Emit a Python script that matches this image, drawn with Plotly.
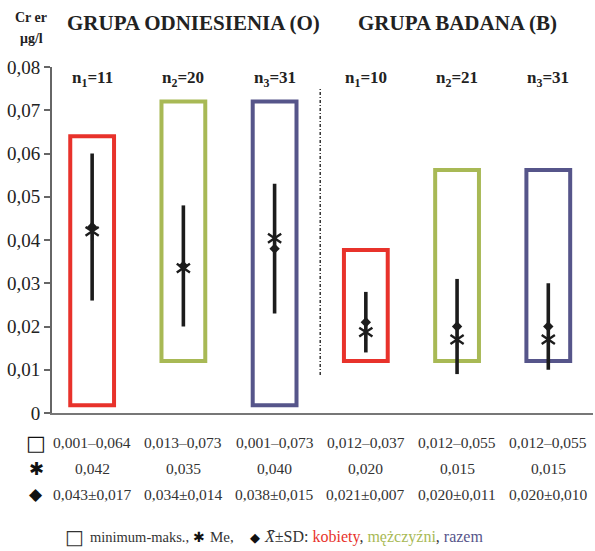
import plotly.graph_objects as go

# ---------------- data ----------------
group_x = [0, 1, 2, 3, 4, 5]
n_labels = ["n<sub>1</sub>=11", "n<sub>2</sub>=20", "n<sub>3</sub>=31",
            "n<sub>1</sub>=10", "n<sub>2</sub>=21", "n<sub>3</sub>=31"]
box_min = [0.0018, 0.012, 0.0018, 0.012, 0.012, 0.012]
box_max = [0.064, 0.072, 0.072, 0.0377, 0.0562, 0.0562]
mean_vals = [0.043, 0.034, 0.038, 0.021, 0.020, 0.020]
sd_vals = [0.017, 0.014, 0.015, 0.007, 0.011, 0.010]
median_marker = [0.042, 0.0335, 0.0404, 0.0187, 0.017, 0.017]
range_text = ["0,001–0,064", "0,013–0,073", "0,001–0,073",
              "0,012–0,037", "0,012–0,055", "0,012–0,055"]
median_text = ["0,042", "0,035", "0,040", "0,020", "0,015", "0,015"]
mean_sd_text = ["0,043±0,017", "0,034±0,014", "0,038±0,015",
                "0,021±0,007", "0,020±0,011", "0,020±0,010"]
y_ticks = [0, 0.01, 0.02, 0.03, 0.04, 0.05, 0.06, 0.07, 0.08]
y_tick_labels = ["0", "0,01", "0,02", "0,03", "0,04", "0,05", "0,06", "0,07", "0,08"]

RED, GREEN, BLUE = "#e8322b", "#a8b955", "#56558a"
box_colors = [RED, GREEN, BLUE, RED, GREEN, BLUE]
INK = "#1c1c1c"
SERIF = "Liberation Serif"
SYM = "DejaVu Sans"

# ---------------- geometry helpers (pixel -> paper) ----------------
W, H = 595, 551
L, R, T, B = 52, 2, 67, 138
PW, PH = W - L - R, H - T - B


def xp(px):
    return (px - L) / PW


def yp(py):
    return (H - B - py) / PH


fig = go.Figure()

# min-max boxes
fig.add_trace(go.Bar(
    x=group_x,
    y=[mx - mn for mn, mx in zip(box_min, box_max)],
    base=box_min,
    width=0.48,
    marker=dict(color="rgba(0,0,0,0)", line=dict(color=box_colors, width=4)),
    hoverinfo="skip",
    showlegend=False,
    cliponaxis=False,
))

# mean ± SD whiskers
wx, wy = [], []
for x, m, s in zip(group_x, mean_vals, sd_vals):
    wx += [x, x, None]
    wy += [m - s, m + s, None]
fig.add_trace(go.Scatter(x=wx, y=wy, mode="lines",
                         line=dict(color=INK, width=3.6),
                         showlegend=False, hoverinfo="skip", cliponaxis=False))

# mean diamonds
fig.add_trace(go.Scatter(x=group_x, y=mean_vals, mode="markers",
                         marker=dict(symbol="diamond", size=8, color=INK),
                         showlegend=False, cliponaxis=False))
# median asterisks (6 arms built from two Y symbols)
for sym in ["y-up-open", "y-down-open"]:
    fig.add_trace(go.Scatter(x=group_x, y=median_marker, mode="markers",
                             marker=dict(symbol=sym, size=11, color=INK,
                                         line=dict(color=INK, width=2.4)),
                             showlegend=False, cliponaxis=False))

# divider between groups
fig.add_shape(type="line", xref="x", yref="y", x0=2.5, x1=2.5,
              y0=0.0088, y1=0.0751,
              line=dict(color="#333333", width=1.5, dash="3px,2px,1px,2px"))

annotations = []


def add_text(text, x, y, size, family=SERIF, color="#222", xanchor="center", xref="paper"):
    annotations.append(dict(text=text, x=x, y=y, xref=xref, yref="paper",
                            xanchor=xanchor, yanchor="middle", showarrow=False,
                            font=dict(family=family, size=size, color=color)))


# header texts
add_text("<b>Cr er</b>", xp(31), yp(18), 14)
add_text("<b>μg/l</b>", xp(31), yp(38), 14)
add_text("<b>GRUPA ODNIESIENIA (O)</b>", xp(193), yp(23), 21)
add_text("<b>GRUPA BADANA (B)</b>", xp(457.5), yp(23), 21)

# n labels and table columns
for x, nl, rt, mt, st in zip(group_x, n_labels, range_text, median_text, mean_sd_text):
    add_text("<b>" + nl + "</b>", x, yp(79), 17, xref="x")
    for txt, row_y in [(rt, 443), (mt, 468), (st, 494)]:
        add_text(txt, x, yp(row_y), 15.5, color="#333", xref="x")

# table row symbols
for sym, row_y, sz in [("□", 443, 21), ("✱", 468, 18), ("◆", 494, 17)]:
    add_text(sym, xp(36), yp(row_y), sz, family=SYM, color="#111")

# legend line (pieces placed at their reference positions)
LEG_Y = yp(537)
add_text("□", xp(74.5), LEG_Y, 20, family=SYM, color="#333")
add_text("minimum-maks.,", xp(88), LEG_Y, 14.5, color="#333", xanchor="left")
add_text("✱", xp(198.5), LEG_Y, 14, family=SYM, color="#111")
add_text("Me,", xp(208), LEG_Y, 15, color="#333", xanchor="left")
add_text("◆", xp(255), LEG_Y, 13, family=SYM, color="#111")
add_text("<i>X̄</i>±SD: "
         f"<span style='color:{RED}'>kobiety</span>, "
         f"<span style='color:{GREEN}'>mężczyźni</span>, "
         f"<span style='color:{BLUE}'>razem</span>",
         xp(262), LEG_Y, 16, color="#333", xanchor="left")

fig.update_layout(
    width=W, height=H,
    margin=dict(l=L, r=R, t=T, b=B),
    paper_bgcolor="white", plot_bgcolor="white",
    showlegend=False,
    font=dict(family=SERIF),
    annotations=annotations,
    xaxis=dict(range=[-0.44, 5.49], showline=True, linecolor="#777", linewidth=2,
               showticklabels=False, ticks="", showgrid=False, zeroline=False,
               fixedrange=True),
    yaxis=dict(range=[0, 0.08], showline=True, linecolor="#666", linewidth=2,
               ticks="outside", ticklen=6, tickwidth=2, tickcolor="#666",
               tickvals=y_ticks, ticktext=y_tick_labels,
               tickfont=dict(family=SERIF, size=19, color="#222"),
               showgrid=False, zeroline=False, fixedrange=True),
)

fig.write_html("out.html", config={"displayModeBar": False},
               post_script="document.body.style.margin='0';document.body.style.overflow='hidden';")
